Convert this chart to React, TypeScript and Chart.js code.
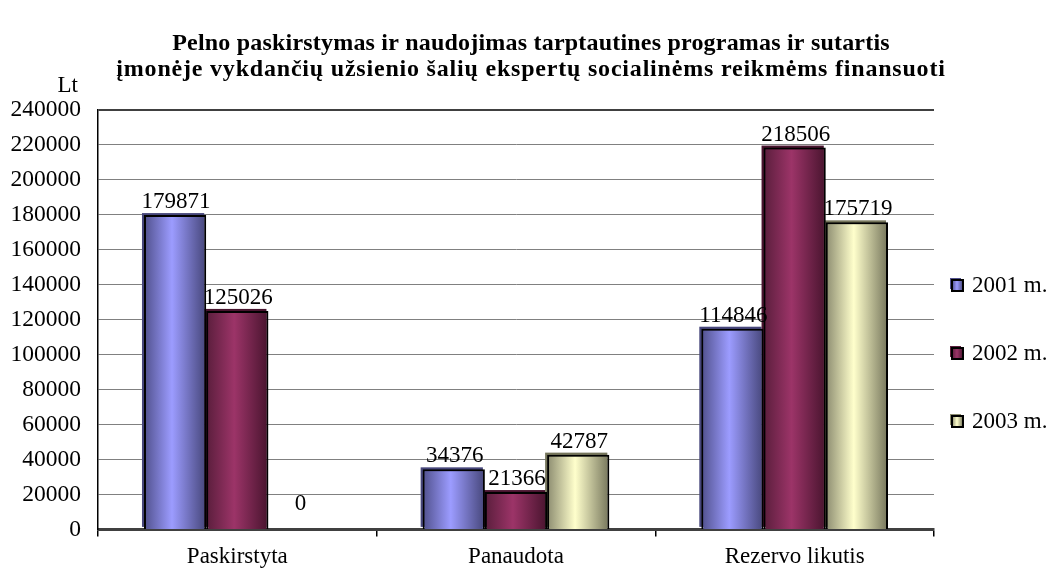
import React, { useEffect, useRef } from "react";
import { Chart, registerables } from "chart.js";

Chart.register(...registerables);

const titleLines = [
  "Pelno paskirstymas ir naudojimas tarptautines programas ir sutartis",
  "įmonėje vykdančių užsienio šalių ekspertų socialinėms reikmėms finansuoti",
];
const yAxisTitle = "Lt";
const categories = ["Paskirstyta", "Panaudota", "Rezervo likutis"];
const seriesLabels = ["2001 m.", "2002 m.", "2003 m."];
const values2001 = [179871, 34376, 114846];
const values2002 = [125026, 21366, 218506];
const values2003 = [0, 42787, 175719];
const yMin = 0;
const yMax = 240000;
const yStep = 20000;

// gradient stops per series: [left edge, highlight, right edge]
const seriesGradients = [
  ["#50508c", "#9c9cff", "#46467a"],
  ["#5a1e3c", "#9c3468", "#48142e"],
  ["#8c8c70", "#ffffcc", "#75755b"],
];

const FONT = "'Liberation Serif', 'Times New Roman', serif";

const makeGrad = (ctx: CanvasRenderingContext2D, x0: number, x1: number, s: string[]) => {
  const g = ctx.createLinearGradient(x0, 0, x1, 0);
  g.addColorStop(0, s[0]);
  g.addColorStop(0.45, s[1]);
  g.addColorStop(1, s[2]);
  return g;
};

const decorPlugin = {
  id: "decor",
  beforeDatasetsDraw(chart: any) {
    const ctx = chart.ctx;
    ctx.save();
    chart.data.datasets.forEach((ds: any, di: number) => {
      const meta = chart.getDatasetMeta(di);
      meta.data.forEach((el: any) => {
        const x0 = el.x - el.width / 2;
        const x1 = el.x + el.width / 2;
        el.options.backgroundColor = makeGrad(ctx, x0, x1, seriesGradients[di]);
        // 3D back face rim
        const h = el.base - el.y;
        if (h > 2) {
          ctx.fillStyle = seriesGradients[di][2];
          ctx.fillRect(x0 - 2, el.y - 2, el.width, h);
        }
      });
    });
    ctx.restore();
  },
  afterDatasetsDraw(chart: any) {
    const ctx = chart.ctx;
    const base = chart.scales.y.getPixelForValue(0);
    ctx.save();
    ctx.font = `23px ${FONT}`;
    ctx.fillStyle = "#000";
    ctx.textAlign = "center";
    ctx.textBaseline = "alphabetic";
    chart.data.datasets.forEach((ds: any, di: number) => {
      const meta = chart.getDatasetMeta(di);
      meta.data.forEach((el: any, i: number) => {
        const y = Math.min(el.y - 7, base - 19);
        ctx.fillText(String(ds.data[i]), el.x + 1, y);
      });
    });
    ctx.restore();
  },
  afterDraw(chart: any) {
    const ctx = chart.ctx;
    ctx.save();
    // title
    ctx.fillStyle = "#000";
    ctx.textAlign = "center";
    ctx.textBaseline = "middle";
    ctx.font = `bold 24px ${FONT}`;
    (ctx as any).letterSpacing = "0.2px";
    ctx.fillText(titleLines[0], 531, 44);
    (ctx as any).letterSpacing = "0.8px";
    ctx.fillText(titleLines[1], 531, 70);
    (ctx as any).letterSpacing = "0px";
    // axis title
    ctx.font = `23px ${FONT}`;
    ctx.textAlign = "right";
    ctx.fillText(yAxisTitle, 78, 86);
    // legend
    const ys = [285, 353, 421];
    chart.data.datasets.forEach((ds: any, di: number) => {
      const y = ys[di];
      const s = seriesGradients[di];
      ctx.fillStyle = s[0];
      ctx.fillRect(950, y - 7, 11, 11);
      ctx.fillStyle = makeGrad(ctx, 952, 963, s);
      ctx.fillRect(952, y - 5, 11, 11);
      ctx.lineWidth = 2;
      ctx.strokeStyle = "#000";
      ctx.strokeRect(952, y - 5, 11, 11);
      ctx.fillStyle = "#000";
      ctx.textAlign = "left";
      ctx.textBaseline = "middle";
      ctx.fillText(ds.label, 972, y + 1);
    });
    ctx.restore();
  },
};

export default function App() {
  const ref = useRef<HTMLCanvasElement | null>(null);
  useEffect(() => {
    document.body.style.margin = "0";
    const canvas = ref.current!;
    const datasets = [values2001, values2002, values2003].map((d, i) => ({
      label: seriesLabels[i],
      data: d,
      backgroundColor: () => seriesGradients[i][1],
      borderColor: "#000",
      borderWidth: { top: 2, left: 2, right: 2, bottom: 0 },
      borderSkipped: false,
    }));
    const chart = new Chart(canvas, {
      type: "bar",
      data: { labels: categories, datasets },
      plugins: [decorPlugin],
      options: {
        responsive: false,
        animation: false,
        layout: { padding: { top: 110, left: 10, right: 119, bottom: -9 } },
        datasets: { bar: { categoryPercentage: 0.67, barPercentage: 1 } },
        plugins: {
          legend: { display: false },
          title: { display: false },
          tooltip: { enabled: false },
        },
        scales: {
          x: {
            offset: true,
            grid: {
              offset: true,
              drawOnChartArea: true,
              drawTicks: true,
              tickLength: 7,
              color: (c: any) => (c.index === 3 ? "#000" : "rgba(0,0,0,0)"),
              tickColor: "#000",
              lineWidth: 1.5,
            },
            border: { display: true, color: "#404040", width: 3 },
            ticks: { color: "#000", font: { family: FONT, size: 23 }, padding: 7 },
          },
          y: {
            min: yMin,
            max: yMax,
            afterFit: (scale: any) => {
              scale.width = 88;
            },
            grid: {
              drawTicks: false,
              color: (c: any) => (c.tick && c.tick.value === yMax ? "#404040" : "#808080"),
              lineWidth: (c: any) => (c.tick && c.tick.value === yMax ? 2 : 1),
            },
            border: { display: true, color: "#000", width: 1.5 },
            ticks: {
              stepSize: yStep,
              color: "#000",
              font: { family: FONT, size: 23.5 },
              padding: 17,
              callback: (v: any) => String(v),
            },
          },
        },
      },
    });
    return () => chart.destroy();
  }, []);
  return <canvas ref={ref} width={1053} height={569} style={{ display: "block" }} />;
}
